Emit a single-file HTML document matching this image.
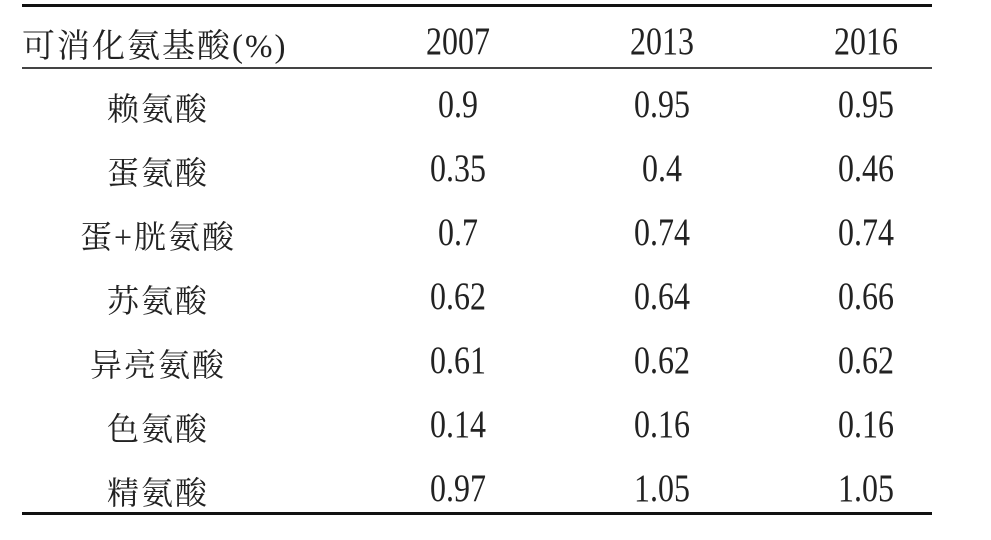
<!DOCTYPE html>
<html><head><meta charset="utf-8"><style>
html,body{margin:0;padding:0;background:#fff;width:991px;height:540px;overflow:hidden;position:relative}
.l{position:absolute;left:22px;width:910px;background:#111}
.c{position:absolute;width:200px;text-align:center;color:#222;white-space:nowrap}
.cn{font-family:"Liberation Serif","Noto Serif CJK SC","Noto Sans CJK SC",serif;font-size:32px;letter-spacing:2px}
.n{font-family:"Liberation Serif",serif;font-size:39px;transform:scaleX(0.82)}
</style></head><body>
<div class="l" style="top:4px;height:3px"></div>
<div class="l" style="top:67px;height:1.5px;background:#444"></div>
<div class="l" style="top:512px;height:3px"></div>
<div id="t"></div>
<script>
const headers=["可消化氨基酸(%)","2007","2013","2016"];
const names=["赖氨酸","蛋氨酸","蛋+胱氨酸","苏氨酸","异亮氨酸","色氨酸","精氨酸"];
const v2007=["0.9","0.35","0.7","0.62","0.61","0.14","0.97"];
const v2013=["0.95","0.4","0.74","0.64","0.62","0.16","1.05"];
const v2016=["0.95","0.46","0.74","0.66","0.62","0.16","1.05"];
const t=document.getElementById('t');
const cx=[158,458,662,866];
function cell(txt,x,y,cls,name){
 const d=document.createElement('div');
 d.className='c '+cls;d.textContent=txt;
 d.style.left=(x-100)+'px';d.style.top=(y-24)+'px';
 
 
 t.appendChild(d);
}
cell(headers[0],155,42,'cn','header-amino-acid');
const h0=t.lastChild;h0.style.left='22px';h0.style.width='auto';h0.style.textAlign='left';h0.style.top='20px';h0.style.fontSize='33px';
for(let j=1;j<4;j++){cell(headers[j],cx[j],40,'n','header-year');t.lastChild.style.top='19px';}
const cols=[v2007,v2013,v2016];
for(let i=0;i<names.length;i++){
 const y=104+i*64;
 cell(names[i],cx[0],y+4,'cn','row-name');
 for(let j=0;j<3;j++){cell(cols[j][i],cx[j+1],y+2,'n','value-cell');}
}
</script>
</body></html>
